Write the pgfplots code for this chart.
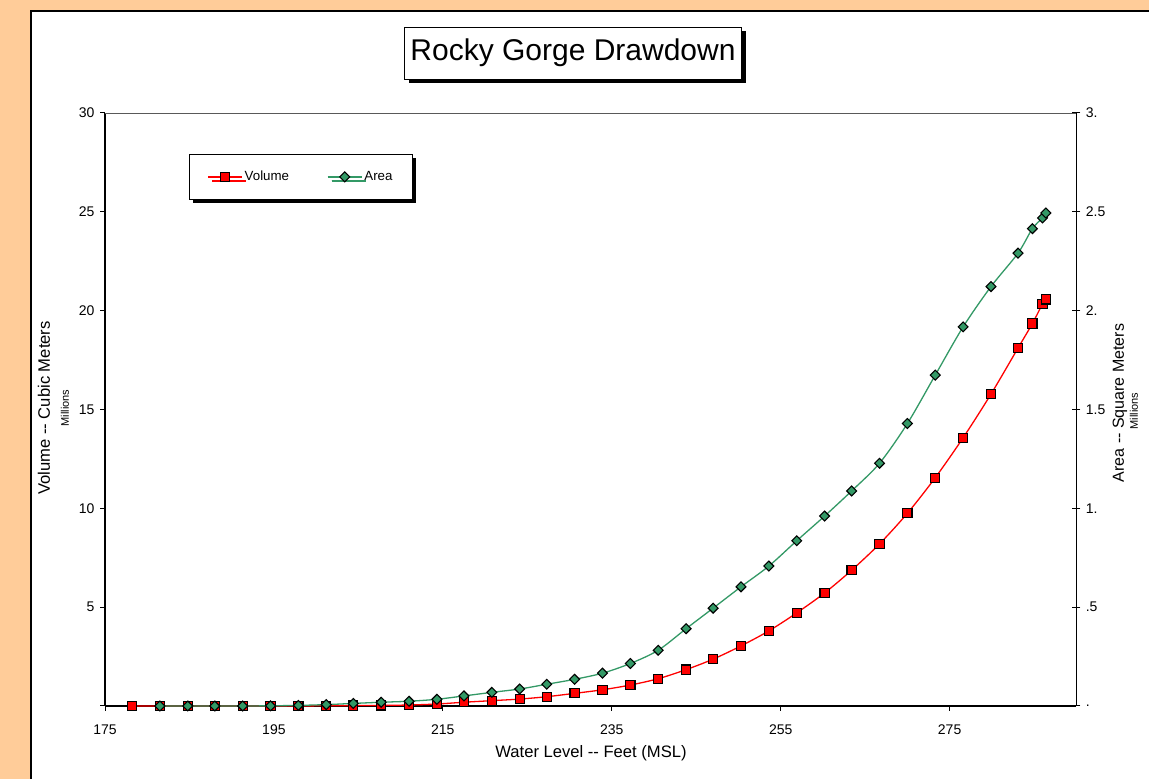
\documentclass[border=0pt]{standalone}
\usepackage{fontspec}
\setmainfont{Liberation Sans}
\usepackage{pgfplots}
\usepackage{pgfplotstable}
\pgfplotsset{compat=1.18}
\usetikzlibrary{shadows}

\definecolor{bgorange}{HTML}{FFCC99}
\definecolor{volred}{HTML}{FF0000}
\definecolor{areagreen}{HTML}{339966}

% water level (ft), volume (million m^3)
\pgfplotstableread{
lvl   vol
178.2 0.00
181.5 0.00
184.8 0.00
188.0 0.00
191.3 0.00
194.6 0.00
197.9 0.005
201.2 0.01
204.4 0.02
207.7 0.03
211.0 0.05
214.3 0.10
217.5 0.19
220.8 0.27
224.1 0.35
227.3 0.47
230.6 0.64
233.9 0.82
237.2 1.06
240.5 1.38
243.8 1.84
247.0 2.37
250.3 3.04
253.6 3.80
256.9 4.71
260.2 5.72
263.4 6.87
266.7 8.20
270.0 9.75
273.3 11.55
276.6 13.57
279.9 15.78
283.1 18.11
284.8 19.35
286.0 20.34
286.4 20.57
}\voltable

% water level (ft), area (million m^2)
\pgfplotstableread{
lvl   area
181.5 0.000
184.8 0.000
188.0 0.000
191.3 0.000
194.6 0.001
197.9 0.003
201.2 0.007
204.4 0.013
207.7 0.019
211.0 0.024
214.3 0.034
217.5 0.051
220.8 0.069
224.1 0.086
227.3 0.110
230.6 0.135
233.9 0.166
237.2 0.215
240.5 0.282
243.8 0.391
247.0 0.495
250.3 0.603
253.6 0.708
256.9 0.836
260.2 0.961
263.4 1.088
266.7 1.228
270.0 1.429
273.3 1.674
276.6 1.918
279.9 2.122
283.1 2.291
284.8 2.415
286.0 2.469
286.4 2.494
}\areatable

\pgfplotsset{
  rgframe/.style={
    at={(105pt,73pt)}, anchor=south west, scale only axis,
    width=971.3pt, height=593pt,
    xmin=175, xmax=290,
    tick style={line width=1pt, black},
    ticklabel style={font=\fontsize{14}{14}\selectfont},
    /pgf/number format/assume math mode=true,
    clip=false,
  },
  rglines/.style={
    axis line style={-, line width=1.6pt, black},
    x axis line style={-, line width=1.6pt},
    y axis line style={-, line width=1.6pt},
  },
  volstyle/.style={volred, line width=1.3pt, smooth, mark=square*, mark size=4.6pt,
    mark options={fill=volred, draw=black, line width=1.1pt}},
  areastyle/.style={areagreen, line width=1.3pt, smooth, mark=square*, mark size=3.5pt,
    mark options={fill=areagreen, draw=black, line width=1.1pt, rotate=45}},
}

\begin{document}
\begin{tikzpicture}[x=1pt,y=1pt]
\useasboundingbox (0,0) rectangle (1149,779);
\fill[bgorange] (0,0) rectangle (1149,779);
\draw[fill=white, line width=1.2pt] (31,-5) rectangle (1155,768);

\node[draw, fill=white, line width=0.8pt, minimum width=337pt, minimum height=52pt,
  inner sep=0pt, font=\fontsize{30}{30}\selectfont,
  drop shadow={shadow xshift=4.5pt, shadow yshift=-4.5pt, fill=black, opacity=1}]
  at (573,726) {Rocky Gorge Drawdown};

\begin{axis}[rgframe,
  ymin=0, ymax=30,
  axis x line*=bottom, axis y line*=left,
  rglines,
  xtick={175,195,215,235,255,275},
  ytick={0,5,10,15,20,25,30},
  yticklabels={,5,10,15,20,25,30},
  tick align=outside, major tick length=5pt,
  xticklabel style={yshift=-10pt},
  yticklabel style={xshift=-2pt},
  after end axis/.code={\draw[black!65, line width=0.8pt] (rel axis cs:0,1) -- (rel axis cs:1,1);},
  legend style={at={(0.0865,0.931)}, anchor=north west, legend columns=2,
    draw=black, line width=0.8pt, fill=white,
    font=\fontsize{13.3}{14}\selectfont,
    inner xsep=18pt, inner ysep=15pt,
    drop shadow={shadow xshift=4pt, shadow yshift=-4pt, fill=black, opacity=1},
    /tikz/every even column/.append style={column sep=36pt}},
  legend image code/.code={
    \draw[#1, mark=none] (0pt,0pt) -- (34pt,0pt);
    \draw[#1, only marks] plot coordinates {(17pt,0pt)};},
]
\addplot[volstyle] table[x=lvl, y=vol] {\voltable};
\addlegendentry{Volume}
\addlegendimage{areastyle}
\addlegendentry{Area}
\end{axis}

\begin{axis}[rgframe,
  ymin=0, ymax=3,
  axis x line=none, axis y line*=right,
  rglines,
  ytick={0,0.5,1,1.5,2,2.5,3},
  yticklabels={.,.5,1.,1.5,2.,2.5,3.},
  tick align=center, major tick length=8pt,
  yticklabel style={anchor=west, xshift=2pt},
]
\addplot[areastyle] table[x=lvl, y=area] {\areatable};
\end{axis}

\node[font=\fontsize{16.6}{17}\selectfont] at (591,26) {Water Level -{}- Feet (MSL)};
\node[rotate=90, font=\fontsize{16.6}{17}\selectfont] at (44,371) {Volume -{}- Cubic Meters};
\node[rotate=90, font=\fontsize{11}{11}\selectfont] at (65,371) {Millions};
\node[rotate=90, font=\fontsize{16}{17}\selectfont] at (1120,376) {Area -{}- Square Meters};
\node[rotate=90, font=\fontsize{11}{11}\selectfont] at (1134,368) {Millions};
\end{tikzpicture}
\end{document}
